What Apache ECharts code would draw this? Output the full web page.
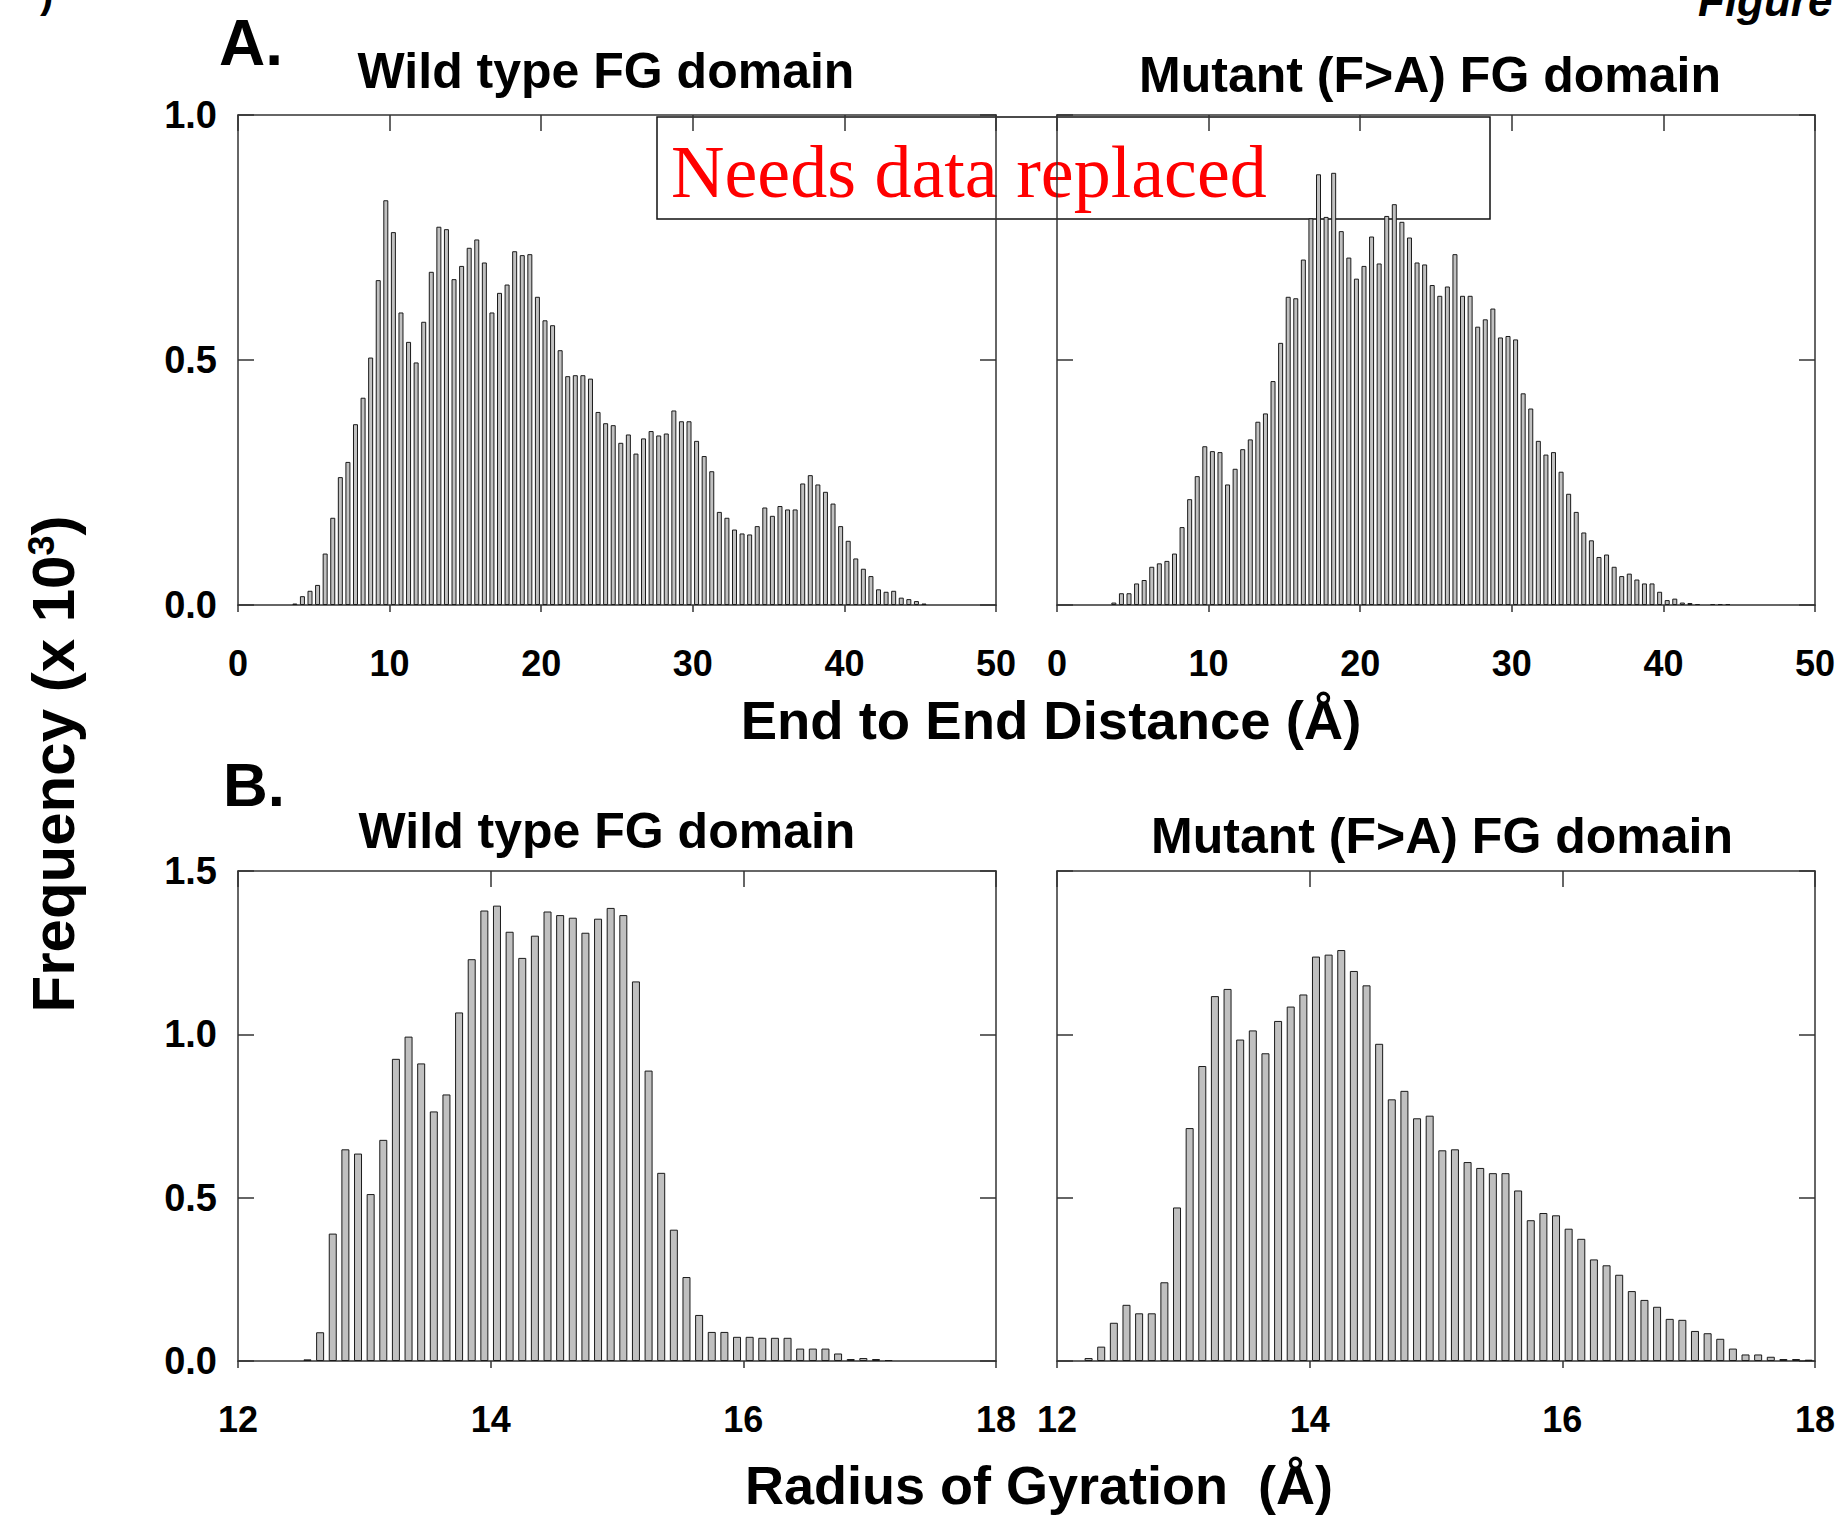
<!DOCTYPE html>
<html>
<head>
<meta charset="utf-8">
<title>FG domain histograms</title>
<script src="https://cdn.jsdelivr.net/npm/echarts@6/dist/echarts.min.js"></script>
<style>
  html, body { margin: 0; padding: 0; background: #fff; }
  #chart { width: 1840px; height: 1519px; }
</style>
</head>
<body>
<div id="chart"></div>
<script>
// End to end distance histograms, 0.5 A bins, first bin centre given
const distBinWidth = 0.5
const wtDistStart = 3.75
const wtDist = [
  0.003, 0.018, 0.029, 0.041, 0.105, 0.178, 0.261, 0.292, 0.369, 0.423,
  0.505, 0.663, 0.826, 0.761, 0.597, 0.537, 0.495, 0.578, 0.680, 0.772,
  0.767, 0.665, 0.692, 0.729, 0.746, 0.699, 0.597, 0.637, 0.654, 0.722,
  0.714, 0.716, 0.629, 0.581, 0.571, 0.520, 0.467, 0.469, 0.469, 0.462,
  0.394, 0.371, 0.367, 0.331, 0.348, 0.309, 0.340, 0.355, 0.346, 0.350,
  0.397, 0.375, 0.375, 0.335, 0.304, 0.273, 0.190, 0.178, 0.154, 0.146,
  0.144, 0.161, 0.199, 0.182, 0.202, 0.195, 0.195, 0.248, 0.265, 0.246,
  0.231, 0.207, 0.161, 0.131, 0.095, 0.074, 0.059, 0.032, 0.027, 0.029,
  0.015, 0.012, 0.008, 0.003
]
const mutDistStart = 3.75
const mutDist = [
  0.005, 0.024, 0.024, 0.044, 0.051, 0.078, 0.085, 0.090, 0.105, 0.159,
  0.216, 0.263, 0.324, 0.314, 0.312, 0.246, 0.278, 0.318, 0.338, 0.374,
  0.391, 0.457, 0.535, 0.629, 0.626, 0.705, 0.789, 0.879, 0.792, 0.882,
  0.763, 0.709, 0.666, 0.692, 0.752, 0.697, 0.794, 0.818, 0.782, 0.750,
  0.699, 0.695, 0.653, 0.631, 0.650, 0.716, 0.631, 0.631, 0.568, 0.583,
  0.605, 0.546, 0.549, 0.542, 0.432, 0.401, 0.335, 0.307, 0.312, 0.272,
  0.227, 0.190, 0.148, 0.132, 0.098, 0.103, 0.078, 0.059, 0.064, 0.052,
  0.044, 0.044, 0.027, 0.010, 0.013, 0.005, 0.004, 0.002, 0, 0.002,
  0.002, 0.002
]

// Radius of gyration histograms, 0.1 A bins
const rgBinWidth = 0.1
const wtRgStart = 12.55
const wtRg = [
  0.005, 0.088, 0.390, 0.648, 0.635, 0.511, 0.677, 0.925, 0.993, 0.911,
  0.764, 0.816, 1.067, 1.230, 1.379, 1.394, 1.314, 1.234, 1.302, 1.376,
  1.365, 1.357, 1.311, 1.354, 1.387, 1.365, 1.162, 0.889, 0.576, 0.402,
  0.257, 0.141, 0.089, 0.089, 0.074, 0.074, 0.071, 0.071, 0.071, 0.038,
  0.038, 0.038, 0.023, 0.006, 0.009, 0.006, 0.003
]
const mutRgStart = 12.25
const mutRg = [
  0.009, 0.044, 0.117, 0.172, 0.146, 0.146, 0.241, 0.470, 0.713, 0.903,
  1.117, 1.139, 0.984, 1.012, 0.942, 1.041, 1.085, 1.122, 1.238, 1.244,
  1.258, 1.194, 1.150, 0.971, 0.801, 0.827, 0.743, 0.751, 0.645, 0.648,
  0.609, 0.591, 0.575, 0.575, 0.522, 0.431, 0.453, 0.446, 0.405, 0.374,
  0.311, 0.293, 0.264, 0.214, 0.187, 0.166, 0.129, 0.126, 0.092, 0.085,
  0.068, 0.038, 0.020, 0.020, 0.013, 0.006, 0.006, 0.004
]

// tick labels
const distTicks = [0, 10, 20, 30, 40, 50]
const rgTicks = [12, 14, 16, 18]
const freqTicksA = [0.0, 0.5, 1.0]
const freqTicksB = [0.0, 0.5, 1.0, 1.5]

const panelTitles = ['Wild type FG domain', 'Mutant (F>A) FG domain']

const font = "'Liberation Sans', Arial, Helvetica, sans-serif"
const lineStyle = { color: '#333', width: 1.5 }

// bin centre + value pairs
function histo(start, width, values) {
  return values
    .map((v, i) => [+(start + i * width).toFixed(2), v])
    .filter(d => d[1] > 0)
}

const panels = [
  { grid: { left: 238, top: 115, width: 758, height: 490 }, xt: distTicks, yt: freqTicksA, data: histo(wtDistStart, distBinWidth, wtDist), bw: 5, ylab: true },
  { grid: { left: 1057, top: 115, width: 758, height: 490 }, xt: distTicks, yt: freqTicksA, data: histo(mutDistStart, distBinWidth, mutDist), bw: 5, ylab: false },
  { grid: { left: 238, top: 871, width: 758, height: 490 }, xt: rgTicks, yt: freqTicksB, data: histo(wtRgStart, rgBinWidth, wtRg), bw: 8, ylab: true },
  { grid: { left: 1057, top: 871, width: 758, height: 490 }, xt: rgTicks, yt: freqTicksB, data: histo(mutRgStart, rgBinWidth, mutRg), bw: 8, ylab: false }
]

const xAxis = []
const yAxis = []
const series = []
panels.forEach((p, i) => {
  const xMin = p.xt[0], xMax = p.xt[p.xt.length - 1], xStep = p.xt[1] - p.xt[0]
  const yMax = p.yt[p.yt.length - 1], yStep = p.yt[1] - p.yt[0]
  // bottom axis with labels, short ticks outside
  xAxis.push({
    type: 'value', gridIndex: i, position: 'bottom', min: xMin, max: xMax, interval: xStep,
    axisLine: { show: true, onZero: false, lineStyle },
    axisTick: { show: true, inside: false, length: 7, lineStyle },
    axisLabel: { show: true, margin: 40, fontSize: 36, fontWeight: 'bold', color: '#000', fontFamily: font },
    splitLine: { show: false }
  })
  // top axis, ticks pointing in
  xAxis.push({
    type: 'value', gridIndex: i, position: 'top', min: xMin, max: xMax, interval: xStep,
    axisLine: { show: true, onZero: false, lineStyle },
    axisTick: { show: true, inside: true, length: 16, lineStyle },
    axisLabel: { show: false },
    splitLine: { show: false }
  })
  yAxis.push({
    type: 'value', gridIndex: i, position: 'left', min: 0, max: yMax, interval: yStep,
    axisLine: { show: true, onZero: false, lineStyle },
    axisTick: { show: true, inside: true, length: 16, lineStyle },
    axisLabel: {
      show: p.ylab, margin: 21, fontSize: 38, fontWeight: 'bold', color: '#000', fontFamily: font,
      formatter: v => v.toFixed(1)
    },
    splitLine: { show: false }
  })
  yAxis.push({
    type: 'value', gridIndex: i, position: 'right', min: 0, max: yMax, interval: yStep,
    axisLine: { show: true, onZero: false, lineStyle },
    axisTick: { show: true, inside: true, length: 16, lineStyle },
    axisLabel: { show: false },
    splitLine: { show: false }
  })
  series.push({
    type: 'bar',
    xAxisIndex: 2 * i,
    yAxisIndex: 2 * i,
    data: p.data,
    barWidth: p.bw,
    itemStyle: { color: '#c0c0c0', borderColor: '#1a1a1a', borderWidth: 1 },
    silent: true
  })
})

function label(text, x, y, size, align) {
  return {
    type: 'text', x, y, silent: true,
    style: { text, fontSize: size, fontWeight: 'bold', fontFamily: font, fill: '#000', align: align || 'center', verticalAlign: 'middle' }
  }
}

const graphic = [
  label('A.', 219, 43, 64, 'left'),
  label('B.', 223, 784, 62, 'left'),
  label(panelTitles[0], 606, 71, 50),
  label(panelTitles[1], 1430, 75, 50),
  label(panelTitles[0], 607, 831, 50),
  label(panelTitles[1], 1442, 836, 50),
  label('End to End Distance (\u00c5)', 1051, 720, 54.5),
  label('Radius of Gyration  (\u00c5)', 1039, 1485, 54),
  {
    type: 'text', x: 53, y: 764, rotation: Math.PI / 2, silent: true,
    style: {
      text: 'Frequency (x 10{sup|3})',
      fontSize: 60, fontWeight: 'bold', fontFamily: font, fill: '#000',
      align: 'center', verticalAlign: 'middle',
      rich: { sup: { fontSize: 36, fontWeight: 'bold', fontFamily: font, fill: '#000', verticalAlign: 'top' } }
    }
  },
  // cut-off figure label in the top right corner
  {
    type: 'text', x: 1698, y: 22, silent: true,
    style: { text: 'Figure', fontSize: 44, fontWeight: 'bold', fontStyle: 'italic', fontFamily: font, fill: '#000', align: 'left', verticalAlign: 'bottom' }
  },
  {
    type: 'text', x: 40, y: 14, silent: true,
    style: { text: ')', fontSize: 40, fontWeight: 'bold', fontFamily: font, fill: '#000', align: 'left', verticalAlign: 'bottom' }
  },
  // placeholder note box
  {
    type: 'rect', silent: true,
    shape: { x: 657, y: 117, width: 833, height: 102 },
    style: { fill: 'none', stroke: '#111', lineWidth: 1.5 }
  },
  {
    type: 'text', x: 671, y: 172, silent: true,
    style: { text: 'Needs data replaced', fontSize: 74, fontFamily: "'Liberation Serif', 'Times New Roman', serif", fill: '#ff0000', align: 'left', verticalAlign: 'middle' }
  }
]

const chart = echarts.init(document.getElementById('chart'), null, { renderer: 'svg' })
chart.setOption({
  backgroundColor: '#fff',
  animation: false,
  grid: panels.map(p => Object.assign({ containLabel: false }, p.grid)),
  xAxis,
  yAxis,
  series,
  graphic
})
</script>
</body>
</html>
